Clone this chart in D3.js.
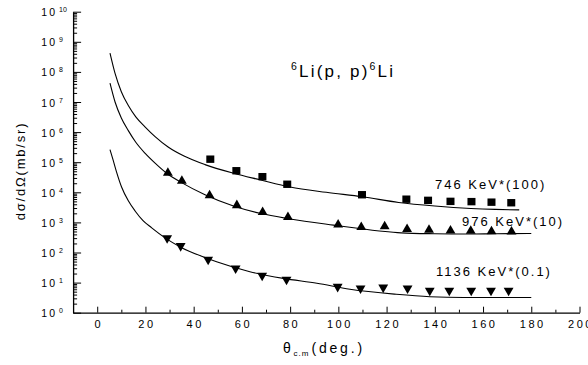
<!DOCTYPE html>
<html>
<head>
<meta charset="utf-8">
<script src="https://cdn.jsdelivr.net/npm/d3@7"></script>
<style>
    body { margin: 0; background: #fff; }
    svg { font-family: "Liberation Sans", Arial, sans-serif; }
    .axis path, .axis line { stroke: #000; }
</style>
</head>
<body>
<svg id="chart" width="588" height="365"></svg>
<script>
// measured points (angles in deg, cross sections in mb/sr, already scaled)
let angles746 = [46.9, 57.7, 68.5, 78.8, 109.8, 128.2, 137.2, 146.5, 155.2, 163.5, 171.7];
let values746 = [1.26e5, 5.2e4, 3.3e4, 1.85e4, 8.3e3, 5.9e3, 5.4e3, 5.0e3, 4.9e3, 4.7e3, 4.5e3];

let angles976 = [29.3, 35.1, 46.6, 57.9, 68.6, 79.1, 99.9, 109.5, 119.2, 128.5, 137.6, 146.5, 154.9, 163.5, 171.8];
let values976 = [4.4e4, 2.4e4, 7.9e3, 3.7e3, 2.2e3, 1.5e3, 840, 700, 740, 600, 560, 530, 520, 500, 490];

let angles1136 = [29.0, 34.6, 46.0, 57.4, 68.4, 78.5, 99.7, 109.2, 118.6, 128.7, 137.9, 146.0, 155.1, 163.3, 170.6];
let values1136 = [300, 165, 58, 30, 17, 12.5, 7.3, 6.4, 6.9, 6.4, 5.4, 5.4, 5.4, 5.4, 5.4];

// calculated curves
let fitAngles746 = [5.3, 7.4, 10, 12.9, 16, 19.8, 24, 29.4, 36, 44.7, 56.5, 67.5, 80, 95, 110, 125, 140, 155, 165, 175];
let fitValues746 = [4.2e8, 8.9e7, 2.2e7, 7.6e6, 3.2e6, 1.5e6, 7.1e5, 3.2e5, 1.6e5, 8.3e4, 4.3e4, 2.6e4, 1.5e4, 1.0e4, 7.1e3, 4.6e3, 3.5e3, 2.9e3, 2.7e3, 2.6e3];

let fitAngles976 = [5.3, 7.4, 10, 12.9, 16, 19.8, 24, 28.8, 35, 44.7, 56.5, 67.5, 80, 98, 117, 126, 140, 153, 165, 180];
let fitValues976 = [4.2e7, 1.0e7, 2.95e6, 1.12e6, 4.6e5, 2.0e5, 9.3e4, 4.3e4, 2.1e4, 8.3e3, 3.5e3, 2.0e3, 1.3e3, 810, 520, 450, 420, 410, 420, 430];

let fitAngles1136 = [5.3, 6.7, 8, 10.1, 12.9, 15.7, 19, 22.6, 28.3, 35, 44.7, 49.5, 63.3, 77.2, 91.1, 104.8, 124, 138, 152, 165, 180];
let fitValues1136 = [2.6e5, 1.1e5, 4.8e4, 1.5e4, 5.2e3, 2.4e3, 1.15e3, 660, 300, 145, 68, 49, 23, 13.8, 9.5, 6.0, 4.1, 3.4, 3.2, 3.2, 3.2];

let seriesLabels = ["746 KeV*(100)", "976 KeV*(10)", "1136 KeV*(0.1)"];
let xTicks = [0, 20, 40, 60, 80, 100, 120, 140, 160, 180, 200];
let yExponents = [0, 1, 2, 3, 4, 5, 6, 7, 8, 9, 10];

let svg = d3.select("svg#chart");

let x = d3.scaleLinear().domain([-10, 200]).range([73.1, 579.5]);
let y = d3.scaleLog().domain([1, 1e10]).range([312.7, 11.7]);

let zip = function(a, b) { return a.map(function(d, i) { return [d, b[i]]; }); };

// x axis, ticks pointing inwards
let xMinor = d3.range(10, 200, 20);
svg.append("g")
    .attr("class", "axis")
    .attr("transform", "translate(0," + y(1) + ")")
    .call(d3.axisBottom(x).tickValues(xMinor).tickSize(-3).tickFormat(""))
    .call(function(g) { g.select(".domain").remove(); });
svg.append("g")
    .attr("class", "axis")
    .attr("transform", "translate(0," + y(1) + ")")
    .call(d3.axisBottom(x).tickValues(xTicks).tickSize(-6).tickSizeOuter(0).tickPadding(8))
    .call(function(g) {
        g.select(".domain").attr("stroke-width", 1.3);
        g.selectAll(".tick text")
            .attr("fill", "#000")
            .attr("font-size", 11)
            .attr("letter-spacing", "2.5px")
            .attr("dx", "1px");
    });

// y axis, log decades with minor ticks
let yMajor = yExponents.map(function(e) { return Math.pow(10, e); });
let yMinor = [];
yExponents.slice(0, -1).forEach(function(e) {
    for (let m = 2; m < 10; m++) yMinor.push(m * Math.pow(10, e));
});
svg.append("g")
    .attr("class", "axis")
    .attr("transform", "translate(" + x(-10) + ",0)")
    .call(d3.axisLeft(y).tickValues(yMinor).tickSize(-4).tickFormat(""))
    .call(function(g) { g.select(".domain").remove(); });
svg.append("g")
    .attr("class", "axis")
    .attr("transform", "translate(" + x(-10) + ",0)")
    .call(d3.axisLeft(y).tickValues(yMajor).tickSize(-8).tickSizeOuter(0).tickFormat(""))
    .call(function(g) { g.select(".domain").attr("stroke-width", 1.3); });

// y tick labels as 10 with a raised exponent
svg.append("g").selectAll("text")
    .data(yExponents)
    .enter().append("text")
    .attr("x", 57)
    .attr("y", function(e) { return y(Math.pow(10, e)) + 4.5; })
    .attr("font-size", 10.5)
    .attr("letter-spacing", "2px")
    .attr("text-anchor", "end")
    .text("10");
svg.append("g").selectAll("text")
    .data(yExponents)
    .enter().append("text")
    .attr("x", 59)
    .attr("y", function(e) { return y(Math.pow(10, e)) + 0.5; })
    .attr("font-size", 7)
    .text(function(e) { return e; });

// axis titles
let xTitle = svg.append("text")
    .attr("x", 283)
    .attr("y", 353)
    .attr("font-size", 14)
    .attr("letter-spacing", "2.8px");
xTitle.append("tspan").text("θ");
xTitle.append("tspan").attr("font-size", 8).attr("dy", 3).attr("letter-spacing", "1px").text("c.m");
xTitle.append("tspan").attr("dy", -3).attr("dx", 2).text("(deg.)");

svg.append("text")
    .attr("transform", "translate(24.5,171) rotate(-90)")
    .attr("text-anchor", "middle")
    .attr("font-size", 13)
    .attr("letter-spacing", "1.8px")
    .text("dσ/dΩ(mb/sr)");

// reaction title
let title = svg.append("text")
    .attr("x", 291)
    .attr("y", 77)
    .attr("font-size", 17)
    .attr("letter-spacing", "2.2px");
title.append("tspan").attr("font-size", 10.5).attr("dy", -7).text("6");
title.append("tspan").attr("dy", 7).text("Li(p, p)");
title.append("tspan").attr("font-size", 10.5).attr("dy", -7).text("6");
title.append("tspan").attr("dy", 7).text("Li");

// curves
let line = d3.line()
    .x(function(d) { return x(d[0]); })
    .y(function(d) { return y(d[1]); })
    .curve(d3.curveMonotoneX);

[zip(fitAngles746, fitValues746), zip(fitAngles976, fitValues976), zip(fitAngles1136, fitValues1136)]
    .forEach(function(pts) {
        svg.append("path")
            .datum(pts)
            .attr("fill", "none")
            .attr("stroke", "#000")
            .attr("stroke-width", 1.1)
            .attr("d", line);
    });

// markers
svg.append("g").selectAll("rect")
    .data(zip(angles746, values746))
    .enter().append("rect")
    .attr("x", function(d) { return x(d[0]) - 4; })
    .attr("y", function(d) { return y(d[1]) - 3.7; })
    .attr("width", 8)
    .attr("height", 7.4)
    .attr("fill", "#000");

let tri = d3.symbol().type(d3.symbolTriangle).size(42);
svg.append("g").selectAll("path")
    .data(zip(angles976, values976))
    .enter().append("path")
    .attr("transform", function(d) { return "translate(" + x(d[0]) + "," + y(d[1]) + ")"; })
    .attr("d", tri)
    .attr("fill", "#000");
svg.append("g").selectAll("path")
    .data(zip(angles1136, values1136))
    .enter().append("path")
    .attr("transform", function(d) { return "translate(" + x(d[0]) + "," + y(d[1]) + ") rotate(180)"; })
    .attr("d", tri)
    .attr("fill", "#000");

// series labels, placed in data units
let labelPos = [[140.1, 1.29e4], [151.3, 760], [140.5, 16.6]];
svg.append("g").selectAll("text")
    .data(seriesLabels)
    .enter().append("text")
    .attr("x", function(d, i) { return x(labelPos[i][0]); })
    .attr("y", function(d, i) { return y(labelPos[i][1]); })
    .attr("font-size", 13)
    .attr("letter-spacing", "2px")
    .text(function(d) { return d; });
</script>
</body>
</html>
